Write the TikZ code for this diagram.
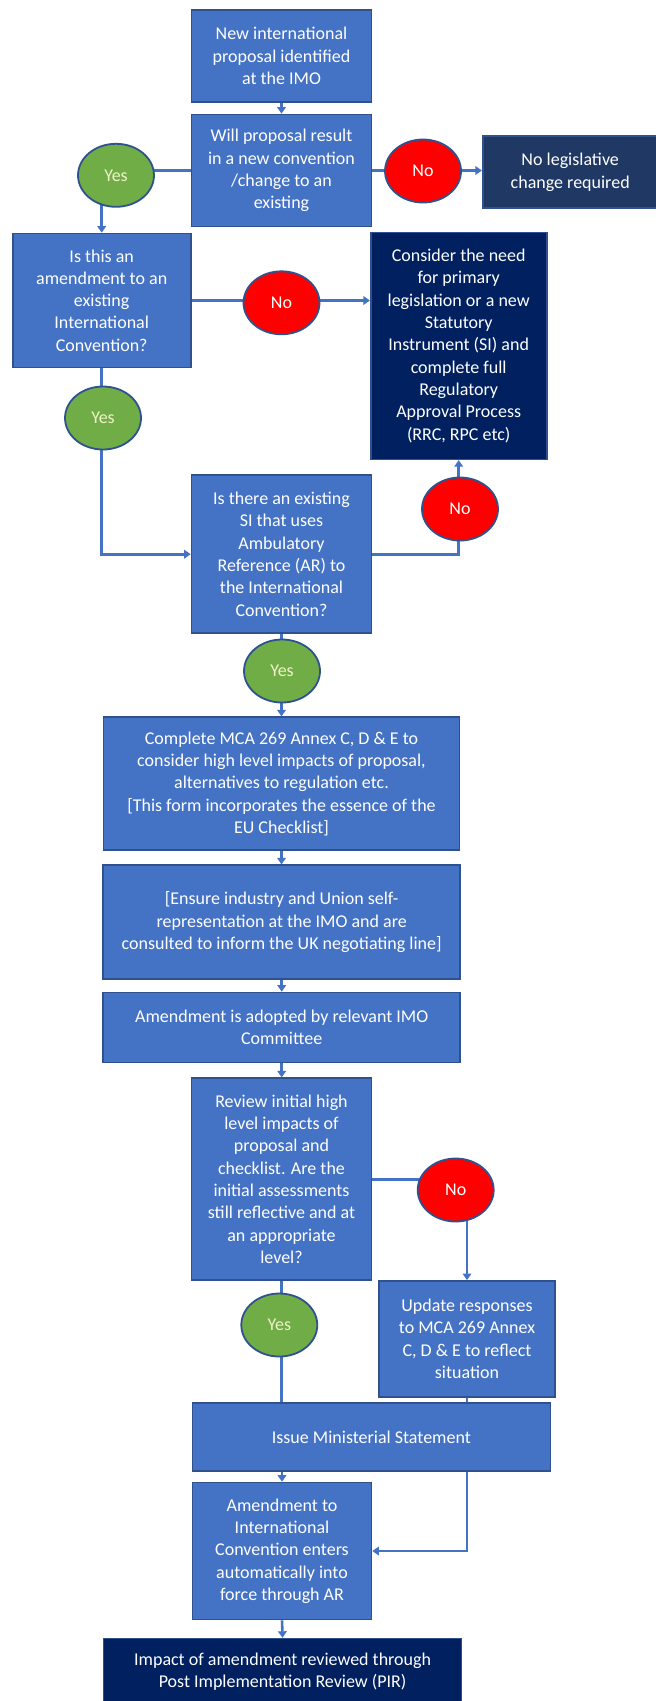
\documentclass[tikz,border=0pt]{standalone}
\usepackage{fontspec}
\setmainfont{Carlito}
\usetikzlibrary{shapes.geometric,arrows.meta}
\definecolor{boxc}{HTML}{4472C4}
\definecolor{bordc}{HTML}{2F528F}
\definecolor{navyA}{HTML}{203864}
\definecolor{navyB}{HTML}{002060}
\definecolor{greenc}{HTML}{70AD47}
\definecolor{redc}{HTML}{FF0000}
\definecolor{linec}{HTML}{4472C4}
\definecolor{yestext}{HTML}{EEF3C8}
\tikzset{
  box/.style={draw=bordc, fill=boxc, line width=1.6pt, text=white, align=center,
    font=\fontsize{18}{22.3}\selectfont, inner sep=0pt},
  navybox/.style={box, fill=#1},
  yesnode/.style={ellipse, draw=bordc, fill=greenc, line width=1.8pt, inner sep=0pt,
    minimum width=76pt, minimum height=63pt, text=yestext, font=\fontsize{18}{22}\selectfont},
  nonode/.style={ellipse, draw=bordc, fill=redc, line width=1.8pt, inner sep=0pt,
    minimum width=76pt, minimum height=63pt, text=white, font=\fontsize{18}{22}\selectfont},
  conn/.style={draw=linec, line width=2.6pt},
  arr/.style={conn, -{Triangle[width=8.5pt,length=6.5pt]}},
}
\begin{document}
\begin{tikzpicture}[x=1pt,y=-1pt]
\useasboundingbox (0,0) rectangle (656,1701);
\fill[white] (0,0) rectangle (656,1701);

% boxes
\node[box, minimum width=180pt, minimum height=92pt] (b1) at (281.5,56)
  {New international\\proposal identified\\at the IMO};
\node[box, minimum width=180pt, minimum height=112pt] (b2) at (281.5,170.5)
  {Will proposal result\\in a new convention\\/change to an\\existing};
\node[navybox=navyA, minimum width=175pt, minimum height=72pt] (nl) at (570.2,172.2)
  {No legislative\\change required};
\node[box, minimum width=178pt, minimum height=134pt] (b3) at (101.7,300.5)
  {Is this an\\amendment to an\\existing\\International\\Convention?};
\node[navybox=navyB, minimum width=176pt, minimum height=227pt] (cons) at (458.7,345.8)
  {Consider the need\\for primary\\legislation or a new\\Statutory\\Instrument (SI) and\\complete full\\Regulatory\\Approval Process\\(RRC, RPC etc)};
\node[box, minimum width=180pt, minimum height=158pt] (b4) at (281.5,554.2)
  {Is there an existing\\SI that uses\\Ambulatory\\Reference (AR) to\\the International\\Convention?};
\node[box, minimum width=356pt, minimum height=133pt] (b5) at (281.5,783.7)
  {Complete MCA 269 Annex C, D \& E to\\consider high level impacts of proposal,\\alternatives to regulation etc.\\{[}This form incorporates the essence of the\\EU Checklist{]}};
\node[box, minimum width=357pt, minimum height=114pt] (b6) at (281.7,922.2)
  {{[}Ensure industry and Union self-\\representation at the IMO and are\\consulted to inform the UK negotiating line{]}};
\node[box, minimum width=357pt, minimum height=70pt] (b7) at (281.7,1027.5)
  {Amendment is adopted by relevant IMO\\Committee};
\node[box, minimum width=180pt, minimum height=202pt] (b8) at (281.5,1179.2)
  {Review initial high\\level impacts of\\proposal and\\checklist. Are the\\initial assessments\\still reflective and at\\an appropriate\\level?};
\node[box, minimum width=176pt, minimum height=116pt] (b9) at (467,1338.9)
  {Update responses\\to MCA 269 Annex\\C, D \& E to reflect\\situation};
\node[box, minimum width=358pt, minimum height=68pt] (b10) at (371.4,1437)
  {Issue Ministerial Statement};
\node[box, minimum width=179pt, minimum height=137pt] (b11) at (282,1551)
  {Amendment to\\International\\Convention enters\\automatically into\\force through AR};
\node[navybox=navyB, minimum width=358pt, minimum height=66pt, anchor=north] (b12) at (282.6,1637.8)
  {Impact of amendment reviewed through\\Post Implementation Review (PIR)};

% connectors
\draw[arr] (b1.south) -- (b2.north);
\draw[arr] (b2.west) -| (b3.north);
\draw[arr] (b2.east) -- (b2.east -| nl.west);
\draw[arr] (b3.east) -- (b3.east -| cons.west);
\draw[arr] (b3.south) |- (b4.west);
\draw[arr] (b4.east) -| (cons.south);
\draw[arr] (b4.south) -- (b4.south |- b5.north);
\draw[arr] (b5.south) -- (b5.south |- b6.north);
\draw[arr] (b6.south) -- (b6.south |- b7.north);
\draw[arr] (b7.south) -- (b7.south |- b8.north);
\draw[arr] (b8.east) -| (b9.north);
\draw[conn] (b8.south) -- (b8.south |- b10.north);
\draw[conn] (b9.south) -- (b9.south |- b10.north);
\draw[arr] (b11.north |- b10.south) -- (b11.north);
\draw[arr] (b9.south |- b10.south) |- (b11.east);
\draw[arr] (b11.south) -- (b12.north);

% decision labels
\node[yesnode] (y1) at (116,175.3) {Yes};
\node[nonode] (n1) at (423,171) {No};
\node[nonode] (n2) at (281.5,302.8) {No};
\node[yesnode] (y2) at (103,418) {Yes};
\node[nonode] (n3) at (460,509) {No};
\node[yesnode] (y3) at (282,671) {Yes};
\node[nonode] (n4) at (455.7,1190) {No};
\node[yesnode] (y4) at (279.3,1325) {Yes};
\end{tikzpicture}
\end{document}
